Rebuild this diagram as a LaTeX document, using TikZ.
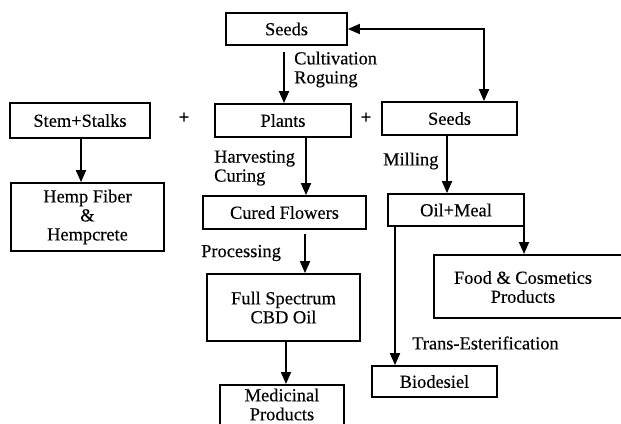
\documentclass[tikz,border=0pt]{standalone}
\usepackage{fontspec}
\setmainfont{Liberation Serif}[FakeBold=0.3]
\usetikzlibrary{arrows.meta,calc}
\tikzset{
  box/.style={draw, line width=1.8pt, inner sep=0pt, align=center, font=\fontsize{18.4}{19}\selectfont},
  txt/.style={inner sep=0pt, align=center, font=\fontsize{18.4}{19}\selectfont},
  plus/.style={inner sep=0pt, font=\fontsize{19}{19}\selectfont\bfseries},
  lbl/.style={inner sep=0pt, anchor=west, align=left, font=\fontsize{18.4}{19}\selectfont},
  arr/.style={line width=1.8pt, -{Triangle[length=12pt,width=10pt]}},
  dbl/.style={line width=1.8pt, {Triangle[length=12pt,width=10pt]}-{Triangle[length=12pt,width=10pt]}},
}
\begin{document}
\begin{tikzpicture}[x=1pt,y=-1pt]
\useasboundingbox (0,0) rectangle (621,423);
\clip (0,0) rectangle (621,423);
% boxes
\node[box, minimum width=121, minimum height=32] (seedsT) at (286.5,29) {Seeds};
\node[box, minimum width=136, minimum height=33] (plants) at (283,120.5) {Plants};
\node[box, minimum width=140, minimum height=35] (stem) at (80,120.5) {Stem+Stalks};
\node[box, minimum width=135, minimum height=33] (seedsR) at (449.5,118.5) {Seeds};
\node[box, minimum width=153, minimum height=68] (hemp) at (87.5,217) {Hemp Fiber\\\&\\Hempcrete};
\node[box, minimum width=163, minimum height=33] (cured) at (284.5,212.5) {Cured Flowers};
\node[box, minimum width=136, minimum height=32] (oil) at (456,210) {Oil+Meal};
\node[box, minimum width=153, minimum height=67] (full) at (283.5,307.5) {Full Spectrum\\CBD Oil};
\node[box, minimum width=124, minimum height=40, anchor=north] (med) at (282,384) {};
\node[txt] (medtxt) at (282,404.5) {Medicinal\\Products};
\node[box, minimum width=125, minimum height=31] (bio) at (434.5,381.5) {Biodesiel};
\node[box, minimum width=200, minimum height=63, anchor=north west] (food) at (433,254) {};
\node[txt] (foodtxt) at (523,287) {Food \& Cosmetics\\Products};
% plus signs
\node[plus] (plus1) at (184,118) {+};
\node[plus] (plus2) at (366,118) {+};
% labels
\node[lbl] (cult) at (294,69.5) {Cultivation\\Roguing};
\node[lbl] (harv) at (214,168) {Harvesting\\Curing};
\node[lbl] (mill) at (383,161) {Milling};
\node[lbl] (proc) at (201,253) {Processing};
\node[lbl] (trans) at (412,343) {Trans-Esterification};
% x positions of connectors
\coordinate (xa) at (284,0);
\coordinate (xb) at (306,0);
\coordinate (xc) at (447,0);
\coordinate (xd) at (305,0);
\coordinate (xe) at (286,0);
\coordinate (xf) at (395,0);
\coordinate (xg) at (524,0);
\coordinate (xh) at (484,0);
\coordinate (xs) at (81,0);
% connectors
\draw[arr, shorten <=6pt] (seedsT.south -| xa) -- (plants.north -| xa);
\draw[arr] (plants.south -| xb) -- (cured.north -| xb);
\draw[arr] (stem.south -| xs) -- (hemp.north -| xs);
\draw[arr] (seedsR.south -| xc) -- (oil.north -| xc);
\draw[arr, shorten <=4pt] (cured.south -| xd) -- (full.north -| xd);
\draw[arr] (full.south -| xe) -- (med.north -| xe);
\draw[arr] (oil.south -| xf) -- (bio.north -| xf);
\draw[arr] (oil.south -| xg) -- (food.north -| xg);
\draw[dbl] (seedsT.east) -| (seedsR.north -| xh);
\end{tikzpicture}
\end{document}
